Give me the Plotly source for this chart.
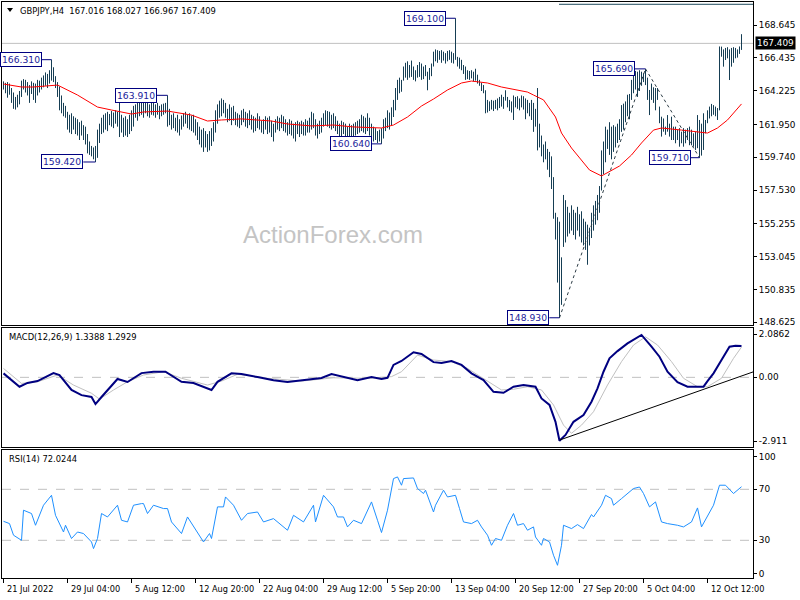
import plotly.graph_objects as go

# ---------------- data ----------------
HIGH = [
    164.85, 164.75, 164.80, 164.70, 164.40, 164.10, 163.80, 163.95, 164.20, 164.90,
    165.00, 164.95, 164.80, 164.60, 164.85, 164.75, 164.70, 164.95, 164.90, 165.10,
    165.25, 165.45, 165.35, 165.60, 166.31, 165.80, 165.20, 164.80, 164.50, 163.90,
    163.40, 163.20, 162.80, 162.60, 162.70, 162.50, 162.40, 162.30, 162.10, 162.20,
    161.90, 161.80, 161.30, 160.80, 160.50, 160.40, 160.50, 161.60, 162.00, 162.40,
    162.60, 162.70, 162.80, 162.65, 162.85, 162.75, 162.90, 162.80, 163.70, 162.60,
    162.40, 162.50, 162.30, 162.60, 162.90, 163.20, 163.30, 163.40, 163.60, 163.50,
    163.50, 163.70, 163.40, 163.30, 163.50, 163.45, 163.30, 163.40, 163.20, 163.30,
    163.35, 163.40, 163.91, 163.00, 162.60, 162.70, 162.40, 162.60, 162.30, 162.55,
    162.70, 162.80, 162.60, 162.70, 162.55, 162.60, 162.30, 162.10, 161.80, 161.60,
    161.70, 161.50, 161.30, 161.50, 161.70, 162.10, 162.90, 163.30, 163.55, 163.70,
    163.60, 163.40, 163.00, 163.30, 163.10, 163.20, 162.80, 162.70, 162.60, 162.90,
    163.00, 162.80, 162.70, 162.90, 162.60, 162.50, 162.40, 162.70, 162.50, 162.20,
    162.30, 162.50, 162.40, 162.50, 162.20, 162.00, 162.30, 162.50, 162.40, 162.60,
    162.50, 162.30, 162.10, 162.30, 162.20, 162.00, 162.10, 162.20, 162.10, 162.20,
    162.10, 162.30, 162.20, 162.40, 162.80, 162.70, 162.30, 162.00, 162.20, 162.40,
    162.70, 162.90, 162.85, 162.80, 162.60, 162.70, 162.50, 162.20, 162.00, 162.20,
    162.10, 162.00, 161.80, 162.00, 161.90, 162.00, 162.10, 162.20, 162.30, 162.60,
    162.50, 162.40, 162.70, 162.40, 162.00, 161.80, 161.70, 161.50, 161.60, 161.70,
    162.30, 162.40, 162.90, 162.75, 163.10, 163.60, 164.40, 164.95, 165.10, 164.95,
    165.85, 166.10, 166.20, 165.95, 166.25, 165.85, 165.60, 165.95, 166.15, 166.05,
    165.85, 165.95, 165.50, 165.75, 166.05, 166.85, 167.00, 166.95, 166.90, 166.95,
    166.85, 166.75, 166.90, 166.95, 166.85, 166.75, 169.10, 166.50, 166.45, 166.30,
    165.95, 165.85, 165.60, 165.55, 165.60, 165.50, 165.70, 165.30, 164.95, 164.75,
    164.60, 164.25, 163.60, 163.50, 163.60, 163.55, 163.60, 163.70, 163.80, 163.95,
    163.80, 164.25, 163.80, 163.60, 163.50, 163.90, 163.80, 163.85, 163.70, 163.90,
    163.85, 163.70, 163.60, 163.40, 163.60, 163.40, 163.00, 164.40, 162.00, 161.20,
    160.60, 160.80, 160.30, 160.10, 159.80, 158.40, 156.00, 155.70, 155.40, 153.00,
    157.20, 156.85, 156.40, 156.00, 156.50, 156.20, 156.00, 156.40, 155.90, 156.10,
    155.60, 155.40, 155.20, 155.00, 156.00, 156.50, 156.80, 157.20, 157.80, 160.20,
    160.80, 161.80, 161.60, 162.10, 161.80, 161.90, 161.80, 162.00, 162.30, 163.25,
    163.35, 163.50, 163.95, 164.00, 164.95, 165.40, 165.55, 165.50, 165.60, 165.50,
    165.40, 165.69, 165.10, 164.27, 164.70, 164.45, 164.40, 164.40, 163.15, 162.47,
    162.35, 161.80, 162.58, 162.00, 162.47, 161.80, 161.80, 161.60, 161.70, 161.46,
    161.70, 161.60, 161.70, 161.80, 161.60, 161.35, 161.46, 162.58, 162.25, 162.00,
    162.70, 162.25, 162.90, 163.15, 163.33, 163.25, 163.15, 163.05, 167.20, 167.19,
    167.00, 167.10, 167.15, 167.00, 167.10, 167.15, 167.10, 167.00, 167.20, 168.027,
]
LOW = [
    164.30, 164.05, 163.75, 163.95, 163.40, 163.00, 162.95, 163.10, 163.30, 163.80,
    164.30, 164.10, 163.90, 163.40, 164.00, 163.60, 163.40, 163.90, 164.10, 164.30,
    164.45, 164.55, 164.40, 164.70, 164.90, 164.80, 164.40, 163.80, 162.90, 162.70,
    162.50, 162.40, 161.60, 161.40, 161.30, 161.60, 161.30, 161.20, 160.90, 161.20,
    160.90, 160.60, 160.00, 159.90, 159.80, 159.60, 159.42, 159.70, 160.70, 161.30,
    161.40, 161.60, 161.50, 161.90, 161.80, 161.70, 162.00, 161.80, 161.10, 161.40,
    161.10, 161.20, 161.10, 161.30, 161.50, 161.80, 162.40, 162.20, 162.50, 162.60,
    162.40, 162.70, 162.50, 162.40, 162.60, 162.55, 162.40, 162.60, 162.30, 162.50,
    162.60, 162.70, 161.80, 161.90, 161.60, 161.70, 161.50, 161.40, 161.20, 161.60,
    161.80, 162.00, 161.70, 161.60, 161.50, 161.40, 161.20, 160.90, 160.60, 160.40,
    160.10, 160.40, 160.10, 160.20, 160.50, 160.80, 161.40, 162.00, 162.40, 162.50,
    162.70, 162.40, 162.10, 162.20, 161.90, 162.20, 161.90, 161.80, 161.70, 161.90,
    162.10, 161.80, 161.70, 161.90, 161.60, 161.40, 161.50, 161.70, 161.60, 161.40,
    161.30, 161.60, 161.30, 161.40, 161.10, 160.80, 161.40, 161.60, 161.50, 161.70,
    161.50, 161.40, 161.20, 161.30, 161.20, 161.00, 160.80, 161.30, 161.10, 161.30,
    161.20, 161.20, 161.40, 161.40, 161.60, 161.70, 161.20, 161.00, 161.30, 161.40,
    161.80, 161.90, 161.80, 161.70, 161.60, 161.70, 161.50, 161.30, 161.00, 161.10,
    161.30, 161.10, 160.80, 161.00, 161.00, 161.10, 161.20, 161.30, 161.40, 161.50,
    161.40, 161.30, 161.50, 161.20, 161.00, 160.80, 160.90, 160.70, 160.80, 160.64,
    161.00, 161.50, 161.70, 161.60, 161.90, 162.45, 162.90, 163.60, 164.05, 164.15,
    164.90, 165.10, 164.95, 165.10, 165.15, 164.95, 164.85, 165.10, 165.15, 164.95,
    165.00, 165.20, 164.25, 164.95, 165.20, 165.85, 166.20, 166.10, 166.30, 166.10,
    166.25, 166.05, 166.20, 166.30, 166.10, 166.05, 166.30, 165.85, 165.70, 165.60,
    165.35, 164.95, 165.00, 164.95, 165.05, 164.85, 164.90, 164.70, 164.55, 164.20,
    164.05, 162.70, 162.75, 162.85, 162.95, 162.85, 163.00, 162.90, 163.05, 163.15,
    163.00, 163.55, 163.10, 162.85, 162.75, 162.25, 163.10, 163.00, 162.90, 163.10,
    162.95, 162.30, 162.70, 162.50, 162.25, 161.45, 161.80, 160.20, 160.40, 159.80,
    159.40, 159.60, 158.90, 158.40, 157.60, 155.60, 154.20, 151.30, 148.93, 149.80,
    153.70, 154.00, 154.40, 154.60, 154.80, 154.50, 154.20, 154.80, 154.40, 154.00,
    153.80, 153.50, 152.50, 153.80, 154.30, 154.80, 155.20, 155.50, 156.00, 157.50,
    158.60, 159.40, 160.30, 159.90, 159.60, 160.10, 160.40, 160.70, 160.90, 161.45,
    161.60, 162.10, 162.50, 162.30, 163.60, 164.05, 164.30, 163.80, 164.20, 164.55,
    164.80, 164.60, 163.60, 162.58, 163.60, 163.40, 162.90, 163.60, 162.03, 161.13,
    161.46, 161.25, 161.46, 161.13, 160.90, 160.90, 160.68, 160.90, 160.45, 160.68,
    160.45, 160.68, 160.90, 160.55, 160.55, 160.45, 160.23, 160.35, 159.71, 159.85,
    160.23, 161.35, 162.03, 162.35, 162.50, 162.60, 162.50, 162.25, 162.90, 166.51,
    165.84, 166.29, 166.40, 164.94, 165.84, 166.10, 166.40, 166.45, 166.70, 166.967,
]

MA_IDX = [0, 9, 15, 24, 27, 37, 47, 54, 64, 70, 82, 94, 102, 109, 119, 134, 142, 154,
          165, 175, 189, 195, 202, 209, 215, 222, 229, 234, 242, 249, 262, 265, 270,
          276, 279, 284, 289, 293, 299, 304, 308, 314, 319, 325, 329, 339, 349, 352,
          357, 362, 369]
MA_VAL = [164.67, 164.47, 164.47, 164.54, 164.60, 163.93, 163.12, 162.92, 162.65,
          162.79, 162.85, 162.58, 162.18, 162.25, 162.32, 162.18, 161.98, 161.85,
          161.91, 161.78, 161.71, 161.91, 162.45, 163.19, 163.66, 164.27, 164.74,
          164.87, 164.74, 164.47, 164.13, 163.93, 163.60, 162.45, 161.37, 160.36,
          159.55, 158.88, 158.48, 158.88, 159.15, 159.89, 160.70, 161.57, 161.71,
          161.57, 161.44, 161.37, 161.71, 162.25, 163.33]

MACD_IDX = [0, 8, 12, 17, 25, 28, 34, 39, 44, 46, 49, 54, 57, 62, 65, 69, 75, 81, 89,
            95, 104, 107, 114, 119, 127, 135, 142, 149, 159, 164, 172, 177, 184, 189,
            192, 195, 199, 205, 209, 215, 219, 224, 229, 234, 240, 245, 250, 255, 260,
            266, 269, 273, 276, 278, 281, 285, 290, 294, 297, 300, 303, 307, 312, 319,
            324, 328, 332, 337, 342, 347, 350, 352, 355, 359, 363, 366, 369]
MACD_VAL = [0.17, -0.40, -0.24, -0.16, 0.18, 0.10, -0.54, -0.76, -0.84, -1.14, -0.84,
            -0.33, -0.07, -0.20, -0.03, 0.18, 0.24, 0.24, -0.19, -0.24, -0.54, -0.19,
            0.17, 0.14, 0.01, -0.12, -0.20, -0.12, -0.03, 0.14, -0.03, -0.12, 0.01,
            -0.07, -0.02, 0.53, 0.70, 1.07, 1.00, 0.65, 0.61, 0.70, 0.53, 0.17, -0.12,
            -0.62, -0.66, -0.40, -0.33, -0.40, -0.90, -1.18, -1.90, -2.71, -2.46,
            -1.90, -1.61, -1.04, -0.47, 0.24, 0.81, 1.12, 1.45, 1.81, 1.31, 0.88, 0.24,
            -0.21, -0.40, -0.40, -0.40, -0.16, 0.17, 0.74, 1.31, 1.35, 1.3388]

SIG_IDX = [0, 9, 17, 27, 35, 44, 48, 55, 62, 70, 80, 89, 102, 109, 117, 132, 149, 165,
           182, 194, 199, 207, 215, 224, 232, 240, 249, 255, 262, 269, 275, 280, 284,
           289, 295, 302, 309, 315, 321, 327, 334, 340, 347, 352, 359, 365, 369]
SIG_VAL = [0.38, -0.26, -0.19, 0.10, -0.33, -0.68, -0.93, -0.54, -0.19, 0.10, 0.24,
           -0.04, -0.33, -0.16, 0.13, -0.04, -0.16, -0.02, -0.04, 0.03, 0.24, 0.95,
           0.74, 0.67, 0.38, -0.04, -0.54, -0.51, -0.40, -0.54, -1.18, -2.04, -2.39,
           -2.04, -1.47, -0.33, 0.67, 1.38, 1.73, 1.38, 0.67, -0.04, -0.40, -0.40,
           -0.04, 0.81, 1.2929]

RSI_IDX = [0, 3, 5, 9, 10, 14, 16, 20, 24, 26, 30, 31, 34, 37, 40, 44, 45, 47, 49, 52,
           57, 59, 62, 65, 69, 70, 72, 75, 80, 82, 84, 89, 92, 97, 100, 103, 104, 107,
           110, 111, 115, 119, 122, 127, 130, 135, 142, 145, 150, 155, 156, 160, 165,
           167, 170, 172, 175, 179, 184, 187, 189, 192, 195, 197, 199, 200, 204, 205,
           207, 210, 211, 215, 216, 220, 222, 226, 228, 230, 234, 237, 239, 242, 244,
           246, 249, 252, 255, 257, 260, 262, 265, 266, 269, 270, 273, 275, 277, 279,
           280, 284, 287, 290, 294, 295, 299, 301, 304, 305, 309, 312, 315, 318, 320,
           323, 326, 329, 332, 337, 340, 344, 347, 349, 352, 355, 358, 361, 365, 369]
RSI_VAL = [44.9, 43.1, 34.0, 30.0, 53.6, 51.0, 41.8, 57.5, 65.3, 49.6, 36.5, 41.8,
           31.4, 36.5, 35.3, 28.7, 23.5, 31.4, 51.0, 48.3, 57.5, 45.7, 44.4, 57.5,
           58.8, 58.8, 51.0, 57.5, 54.9, 54.9, 44.4, 35.3, 48.3, 36.5, 28.7, 35.3,
           31.4, 56.2, 56.2, 64.0, 57.5, 45.7, 51.0, 52.2, 44.4, 47.0, 37.9, 49.6,
           44.4, 57.5, 44.4, 65.3, 56.2, 48.3, 48.3, 40.5, 45.7, 43.1, 60.1, 45.7,
           36.1, 53.6, 78.4, 79.7, 73.2, 78.4, 78.4, 78.9, 70.6, 66.7, 69.3, 52.2,
           57.5, 69.3, 64.0, 65.3, 54.9, 44.4, 43.1, 45.7, 40.5, 34.0, 26.1, 31.4,
           30.0, 41.8, 51.0, 41.8, 43.1, 37.9, 40.5, 32.6, 26.1, 31.4, 28.7, 18.3,
           10.4, 26.1, 41.8, 39.2, 42.3, 39.2, 50.2, 48.3, 57.5, 65.3, 62.7, 57.5,
           62.7, 66.7, 70.6, 71.8, 66.7, 56.2, 60.1, 44.4, 43.1, 41.8, 40.5, 44.4,
           55.4, 40.5, 49.6, 57.5, 73.2, 73.2, 66.7, 72.0244]

TICK_IDX = [0, 32, 64, 96, 128, 160, 192, 224, 256, 288, 320, 352]
TICK_TEXT = ["21 Jul 2022", "29 Jul 04:00", "5 Aug 12:00", "12 Aug 20:00",
             "22 Aug 04:00", "29 Aug 12:00", "5 Sep 20:00", "13 Sep 04:00",
             "20 Sep 12:00", "27 Sep 20:00", "5 Oct 04:00", "12 Oct 12:00"]
PRICE_TICKS = [168.645, 166.435, 164.225, 161.950, 159.740, 157.530, 155.255,
               153.045, 150.835, 148.625]

# swing labels: (text price, bar index of the swing, index of the label box right edge)
SWING_PRICE = [166.310, 159.420, 163.910, 160.640, 169.100, 148.930, 165.690, 159.710]
SWING_BAR = [24, 46, 82, 189, 226, 278, 321, 348]
SWING_BOX_RIGHT = [19.25, 39.9, 76.6, 184.1, 221.1, 272.9, 315.75, 343.6]

LAST_PRICE = 167.409
TOP_LINE_PRICE = 170.04
TOP_LINE_START = 277.75
MACD_TREND = [(278, -2.68), (374.75, 0.23)]

# ---------------- figure ----------------
W, H = 800, 600
ML, MR, MT, MB = 2, 47, 2, 22
PW, PH = W - ML - MR, H - MT - MB
XR = [-0.75, -0.75 + PW / 2.0]


def px_x(p):
    return (p - ML) / PW


def px_y(p):
    return 1 - (p - MT) / PH


BAR_C = "#163e54"
NAVY = "#000080"
FONT = "DejaVu Sans"

xs, ys = [], []
for i, (h, l) in enumerate(zip(HIGH, LOW)):
    xs += [i, i, None]
    ys += [l, h, None]

fig = go.Figure()
fig.add_trace(go.Scatter(x=xs, y=ys, mode="lines", line=dict(color=BAR_C, width=1),
                         xaxis="x", yaxis="y", hoverinfo="skip"))
fig.add_trace(go.Scatter(x=MA_IDX, y=MA_VAL, mode="lines", line=dict(color="#ff0000", width=1),
                         xaxis="x", yaxis="y", hoverinfo="skip"))
fig.add_trace(go.Scatter(x=SIG_IDX, y=SIG_VAL, mode="lines", line=dict(color="#c0c0c0", width=1),
                         xaxis="x2", yaxis="y2", hoverinfo="skip"))
fig.add_trace(go.Scatter(x=MACD_IDX, y=MACD_VAL, mode="lines", line=dict(color=NAVY, width=2),
                         xaxis="x2", yaxis="y2", hoverinfo="skip"))
fig.add_trace(go.Scatter(x=RSI_IDX, y=RSI_VAL, mode="lines", line=dict(color="#1e90ff", width=1),
                         xaxis="x3", yaxis="y3", hoverinfo="skip"))

dom_main = [px_y(325), 1.0]
dom_macd = [px_y(447), px_y(328)]
dom_rsi = [0.0, px_y(450)]

axis_common = dict(showgrid=False, zeroline=False, showline=True, mirror=True,
                   linecolor="black", linewidth=1)
tickfont = dict(family=FONT, size=8.9, color="black")

fig.update_layout(
    width=W, height=H, margin=dict(l=ML, r=MR, t=MT, b=MB),
    paper_bgcolor="white", plot_bgcolor="white", showlegend=False,
    xaxis=dict(domain=[0, 1], range=XR, anchor="y", showticklabels=False, ticks="", **axis_common),
    xaxis2=dict(domain=[0, 1], range=XR, anchor="y2", showticklabels=False, ticks="", **axis_common),
    xaxis3=dict(domain=[0, 1], range=XR, anchor="y3", showticklabels=False, ticks="outside",
                ticklen=4, tickcolor="black", tickvals=TICK_IDX, **axis_common),
    yaxis=dict(domain=dom_main, range=[148.443, 170.194], side="right", anchor="x",
               tickvals=PRICE_TICKS, ticktext=["%.3f" % v for v in PRICE_TICKS],
               ticks="outside", ticklen=3, tickcolor="black", tickfont=tickfont, **axis_common),
    yaxis2=dict(domain=dom_macd, range=[-2.975, 2.107], side="right", anchor="x2",
                tickvals=[1.85, 0, -2.72], ticktext=["2.0862", "0.00", "-2.911"],
                ticks="outside", ticklen=3, tickcolor="black", tickfont=tickfont, **axis_common),
    yaxis3=dict(domain=dom_rsi, range=[0.43, 100.82], side="right", anchor="x3",
                tickvals=[95.5, 70, 30, 4], ticktext=["100", "70", "30", "0"],
                ticks="outside", ticklen=3, tickcolor="black", tickfont=tickfont, **axis_common),
)

shapes = []
# current price line
shapes.append(dict(type="line", xref="x domain", yref="y", x0=0, x1=1, y0=LAST_PRICE, y1=LAST_PRICE,
                   line=dict(color="#c0c0c0", width=1), layer="below"))
# top horizontal line
shapes.append(dict(type="line", xref="x", yref="y", x0=TOP_LINE_START, x1=XR[1],
                   y0=TOP_LINE_PRICE, y1=TOP_LINE_PRICE, line=dict(color="#1f4a5c", width=1)))
# zigzag dotted lines
zz = [(278, 148.930), (321, 165.690), (348, 159.710)]
for (a, b), (c, d) in zip(zz[:-1], zz[1:]):
    shapes.append(dict(type="line", xref="x", yref="y", x0=a, y0=b, x1=c, y1=d,
                       line=dict(color="#2b3b44", width=1, dash="dot")))
# swing label connectors
for p, b, r in zip(SWING_PRICE, SWING_BAR, SWING_BOX_RIGHT):
    shapes.append(dict(type="line", xref="x", yref="y", x0=r, x1=b, y0=p, y1=p,
                       line=dict(color=NAVY, width=1)))
# MACD zero line and trend line
shapes.append(dict(type="line", xref="x2 domain", yref="y2", x0=0, x1=1, y0=0, y1=0,
                   line=dict(color="#c0c0c0", width=1, dash="dash"), layer="below"))
shapes.append(dict(type="line", xref="x2", yref="y2", x0=MACD_TREND[0][0], y0=MACD_TREND[0][1],
                   x1=MACD_TREND[1][0], y1=MACD_TREND[1][1], line=dict(color="black", width=1)))
# RSI levels
for lv in (70, 30):
    shapes.append(dict(type="line", xref="x3 domain", yref="y3", x0=0, x1=1, y0=lv, y1=lv,
                       line=dict(color="#c0c0c0", width=1, dash="dash"), layer="below"))
# header triangle
shapes.append(dict(type="path", xref="paper", yref="paper",
                   path="M %f,%f L %f,%f L %f,%f Z" % (px_x(7), px_y(8), px_x(13), px_y(8), px_x(10), px_y(12)),
                   fillcolor="black", line=dict(color="black", width=0)))
fig.update_layout(shapes=shapes)

ann = []
small = dict(family=FONT, size=8.4, color="black")
ann.append(dict(xref="paper", yref="paper", x=px_x(18), y=px_y(10.7), xanchor="left", yanchor="middle",
                text="GBPJPY,H4  167.016 168.027 166.967 167.409", showarrow=False, font=small))
ann.append(dict(xref="paper", yref="paper", x=px_x(7), y=px_y(336.5), xanchor="left", yanchor="middle",
                text="MACD(12,26,9) 1.3388 1.2929", showarrow=False, font=small))
ann.append(dict(xref="paper", yref="paper", x=px_x(7), y=px_y(459), xanchor="left", yanchor="middle",
                text="RSI(14) 72.0244", showarrow=False, font=small))
ann.append(dict(xref="paper", yref="paper", x=px_x(332.5), y=px_y(235), xanchor="center", yanchor="middle",
                text="ActionForex.com", showarrow=False,
                font=dict(family="Liberation Sans", size=24, color="#c4c4c4")))
# current price tag
ann.append(dict(xref="paper", yref="y", x=1, y=LAST_PRICE, xanchor="left", yanchor="middle", xshift=2,
                text="167.409", showarrow=False, bgcolor="black", borderpad=1,
                font=dict(family=FONT, size=8.9, color="white")))
# swing labels
for p, r in zip(SWING_PRICE, SWING_BOX_RIGHT):
    ann.append(dict(xref="x", yref="y", x=r, y=p, xanchor="right", yanchor="middle",
                    text="%.3f" % p, showarrow=False, bgcolor="white", bordercolor=NAVY,
                    borderwidth=1, borderpad=1, font=dict(family=FONT, size=9.2, color="#1a1a9a")))
# time labels
for t, s in zip(TICK_IDX, TICK_TEXT):
    ann.append(dict(xref="x3", yref="paper", x=t, y=px_y(589), xanchor="left", yanchor="middle",
                    xshift=1, text=s, showarrow=False, font=dict(family=FONT, size=8.2, color="black")))
fig.update_layout(annotations=ann)

fig.write_html("out.html", config={"displayModeBar": False},
               post_script="document.body.style.margin='0';document.body.style.padding='0';")
